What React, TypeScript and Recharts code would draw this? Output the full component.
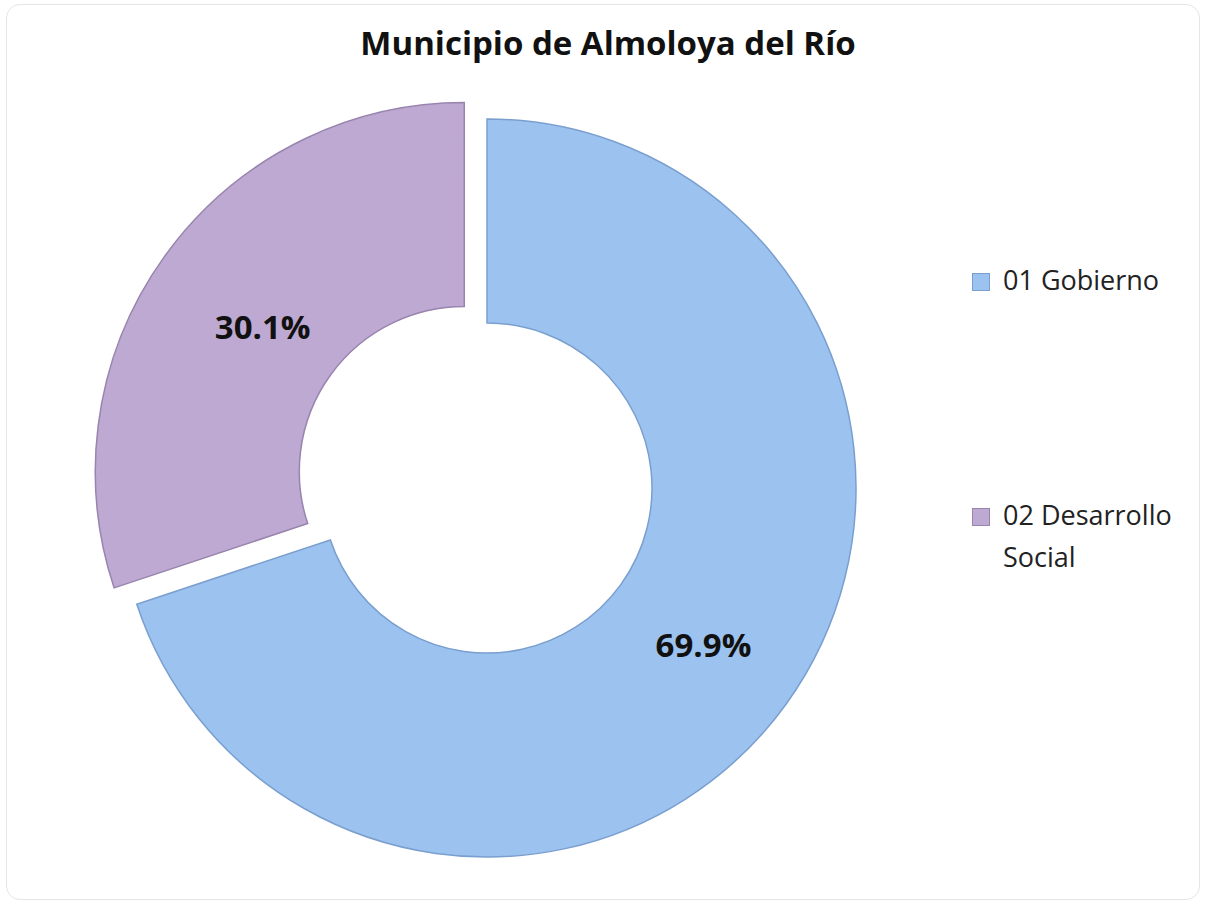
import { Legend, Pie, PieChart, Sector } from "recharts";

const categories = ["01 Gobierno", "02 Desarrollo Social"];
const shares = [69.9, 30.1];
const legendLines = [["01 Gobierno"], ["02 Desarrollo", "Social"]];
const colors = ["#9cc3ef", "#bea9d2"];
const edges = ["#7a9fcf", "#9884ae"];
const exploded = [0, 28];
// where the percentage sits between inner (0) and outer (1) radius
const labelPos = [0.5, 0.41];

const data = categories.map((name, i) => ({ name, value: shares[i] }));

const RADIAN = Math.PI / 180;
const font = "'Open Sans', 'Liberation Sans', sans-serif";

// shift a slice outward along its mid angle, as the original pulls out the smaller slice
function shift(midAngle: number, dist: number) {
  return { dx: dist * Math.cos(-midAngle * RADIAN), dy: dist * Math.sin(-midAngle * RADIAN) };
}

function SliceShape(props: any) {
  const i = categories.indexOf(props.payload?.name ?? props.name);
  const { dx, dy } = shift(props.midAngle, exploded[i] ?? 0);
  return (
    <Sector
      cx={props.cx + dx}
      cy={props.cy + dy}
      innerRadius={props.innerRadius}
      outerRadius={props.outerRadius}
      startAngle={props.startAngle}
      endAngle={props.endAngle}
      fill={colors[i]}
      stroke={edges[i]}
      strokeWidth={1.5}
    />
  );
}

function SliceLabel(props: any) {
  const i = categories.indexOf(props.payload?.name ?? props.name);
  const { dx, dy } = shift(props.midAngle, exploded[i] ?? 0);
  const r = props.innerRadius + (props.outerRadius - props.innerRadius) * labelPos[i];
  const x = props.cx + dx + r * Math.cos(-props.midAngle * RADIAN);
  const y = props.cy + dy + r * Math.sin(-props.midAngle * RADIAN);
  return (
    <text x={x} y={y} textAnchor="middle" dominantBaseline="central" fill="#111" fontSize={33} fontWeight={700} fontFamily={font}>
      {`${shares[i].toFixed(1)}%`}
    </text>
  );
}

function LegendBox() {
  return (
    <div style={{ fontFamily: font, fontSize: 27, color: "#222", lineHeight: "42px" }}>
      {legendLines.map((lines, i) => (
        <div key={categories[i]} style={{ display: "flex", alignItems: "flex-start", marginBottom: i === 0 ? 193 : 0 }}>
          <span
            style={{
              width: 16,
              height: 16,
              marginTop: 14,
              marginRight: 13,
              background: colors[i],
              border: `1px solid ${edges[i]}`,
              flex: "none",
            }}
          />
          <div>
            {lines.map((l) => (
              <div key={l}>{l}</div>
            ))}
          </div>
        </div>
      ))}
    </div>
  );
}

export default function App() {
  return (
    <div style={{ position: "fixed", left: 0, top: 0, width: 1206, height: 905, background: "#fff" }}>
      <div
        style={{
          position: "absolute",
          left: 6,
          top: 4,
          width: 1192,
          height: 894,
          border: "1px solid #e6e6e6",
          borderRadius: 14,
        }}
      />
      <div
        style={{
          position: "absolute",
          top: 20,
          width: 1216,
          textAlign: "center",
          fontFamily: font,
          fontWeight: 700,
          fontSize: 33,
          color: "#111",
        }}
      >
        Municipio de Almoloya del Río
      </div>
      <PieChart
        width={1206}
        height={905}
        margin={{ top: 0, right: 0, bottom: 0, left: 0 }}
        style={{ position: "absolute", left: 0, top: 0 }}
      >
        <Pie
          data={data}
          dataKey="value"
          nameKey="name"
          cx={487}
          cy={488}
          innerRadius={165}
          outerRadius={369}
          startAngle={90}
          endAngle={-270}
          shape={SliceShape}
          label={SliceLabel}
          labelLine={false}
          isAnimationActive={false}
        />
        <Legend
          layout="vertical"
          align="right"
          verticalAlign="top"
          content={() => <LegendBox />}
          wrapperStyle={{ left: 972, top: 259, width: 232 }}
        />
      </PieChart>
    </div>
  );
}
